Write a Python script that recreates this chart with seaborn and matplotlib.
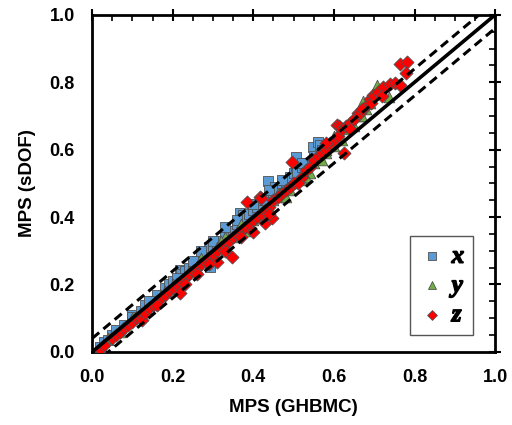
import matplotlib
matplotlib.use("Agg")
import matplotlib.pyplot as plt
import matplotlib.patheffects as pe
import seaborn as sns
import pandas as pd
from matplotlib.ticker import MultipleLocator
from matplotlib.font_manager import FontProperties

# ---- data ----
x_ghbmc = [0.02, 0.03, 0.04, 0.05, 0.06, 0.08, 0.10, 0.10, 0.12, 0.13, 0.15, 0.16, 0.18, 0.19,
           0.20, 0.218, 0.22, 0.23, 0.24, 0.25, 0.26, 0.27, 0.28, 0.29, 0.293, 0.30, 0.31, 0.32,
           0.33, 0.34, 0.35, 0.36, 0.367, 0.375, 0.38, 0.39, 0.40, 0.41, 0.42, 0.43, 0.437, 0.454,
           0.45, 0.46, 0.47, 0.48, 0.49, 0.50, 0.506, 0.506, 0.509, 0.52, 0.53, 0.548, 0.561,
           0.566, 0.55, 0.57, 0.14, 0.21, 0.25, 0.27, 0.30, 0.33, 0.36, 0.40, 0.44, 0.47, 0.52]
x_sdof = [0.015, 0.03, 0.035, 0.05, 0.065, 0.08, 0.11, 0.104, 0.12, 0.14, 0.15, 0.17, 0.19, 0.20,
          0.21, 0.243, 0.23, 0.24, 0.25, 0.26, 0.27, 0.28, 0.29, 0.31, 0.252, 0.31, 0.32, 0.33,
          0.35, 0.36, 0.36, 0.38, 0.412, 0.407, 0.40, 0.41, 0.42, 0.43, 0.45, 0.45, 0.507, 0.49,
          0.47, 0.48, 0.50, 0.50, 0.52, 0.53, 0.579, 0.546, 0.534, 0.55, 0.56, 0.608, 0.623,
          0.614, 0.58, 0.60, 0.15, 0.22, 0.27, 0.30, 0.33, 0.37, 0.39, 0.44, 0.48, 0.51, 0.56]

y_ghbmc = [0.04, 0.07, 0.10, 0.12, 0.15, 0.17, 0.20, 0.22, 0.24, 0.26, 0.28, 0.30, 0.31, 0.33,
           0.33, 0.35, 0.36, 0.38, 0.40, 0.42, 0.44, 0.45, 0.46, 0.47, 0.49, 0.50, 0.52, 0.54,
           0.55, 0.56, 0.57, 0.58, 0.58, 0.60, 0.60, 0.62, 0.63, 0.65, 0.66, 0.672, 0.68, 0.69,
           0.707, 0.72, 0.737, 0.18, 0.27, 0.32, 0.37, 0.41, 0.48, 0.53, 0.59, 0.64, 0.67]
y_sdof = [0.04, 0.06, 0.10, 0.11, 0.14, 0.17, 0.20, 0.21, 0.24, 0.25, 0.27, 0.29, 0.31, 0.32,
          0.34, 0.34, 0.36, 0.36, 0.39, 0.41, 0.43, 0.45, 0.47, 0.46, 0.48, 0.50, 0.51, 0.53,
          0.56, 0.58, 0.57, 0.59, 0.60, 0.61, 0.64, 0.63, 0.66, 0.67, 0.70, 0.745, 0.72, 0.74,
          0.792, 0.77, 0.757, 0.18, 0.28, 0.33, 0.38, 0.40, 0.46, 0.52, 0.62, 0.68, 0.70]

z_ghbmc = [0.02, 0.03, 0.05, 0.06, 0.07, 0.08, 0.09, 0.10, 0.11, 0.12, 0.124, 0.13, 0.14, 0.15,
           0.16, 0.17, 0.18, 0.19, 0.20, 0.21, 0.218, 0.22, 0.23, 0.24, 0.25, 0.26, 0.27, 0.28,
           0.29, 0.30, 0.31, 0.31, 0.32, 0.33, 0.34, 0.347, 0.35, 0.36, 0.37, 0.38, 0.385, 0.39,
           0.40, 0.40, 0.41, 0.417, 0.419, 0.42, 0.43, 0.43, 0.44, 0.447, 0.45, 0.46, 0.47, 0.48,
           0.49, 0.496, 0.50, 0.52, 0.53, 0.54, 0.55, 0.56, 0.57, 0.58, 0.59, 0.60, 0.608, 0.61,
           0.613, 0.62, 0.625, 0.63, 0.64, 0.65, 0.66, 0.665, 0.68, 0.69, 0.692, 0.697, 0.70,
           0.71, 0.722, 0.739, 0.752, 0.764, 0.764, 0.782, 0.779,
           0.16, 0.23, 0.26, 0.29, 0.33, 0.37, 0.44, 0.51, 0.58, 0.64, 0.67, 0.72]
z_sdof = [0.01, 0.02, 0.04, 0.05, 0.06, 0.07, 0.08, 0.09, 0.10, 0.11, 0.095, 0.115, 0.13, 0.14,
          0.15, 0.16, 0.17, 0.18, 0.19, 0.20, 0.175, 0.21, 0.22, 0.23, 0.24, 0.25, 0.26, 0.27,
          0.28, 0.29, 0.30, 0.267, 0.31, 0.32, 0.33, 0.282, 0.34, 0.35, 0.36, 0.37, 0.445, 0.38,
          0.39, 0.356, 0.40, 0.46, 0.457, 0.41, 0.42, 0.383, 0.43, 0.398, 0.45, 0.46, 0.47, 0.48,
          0.49, 0.564, 0.50, 0.52, 0.54, 0.55, 0.57, 0.58, 0.59, 0.60, 0.62, 0.63, 0.674, 0.64,
          0.671, 0.66, 0.59, 0.67, 0.68, 0.69, 0.71, 0.709, 0.73, 0.75, 0.739, 0.763, 0.76,
          0.77, 0.786, 0.795, 0.798, 0.792, 0.855, 0.861, 0.828,
          0.14, 0.20, 0.23, 0.26, 0.30, 0.34, 0.41, 0.50, 0.62, 0.66, 0.72, 0.76]

series_names = ["x", "y", "z"]
ref_x = [0.0, 1.0]
band = 0.04

df = pd.concat([
    pd.DataFrame({"GHBMC": x_ghbmc, "sDOF": x_sdof, "dir": "x"}),
    pd.DataFrame({"GHBMC": y_ghbmc, "sDOF": y_sdof, "dir": "y"}),
    pd.DataFrame({"GHBMC": z_ghbmc, "sDOF": z_sdof, "dir": "z"}),
], ignore_index=True)

sns.set_theme(style="white")
plt.rcParams["font.family"] = ["Liberation Sans", "DejaVu Sans"]
plt.rcParams["text.color"] = "black"
plt.rcParams["axes.labelcolor"] = "black"
plt.rcParams["xtick.color"] = "black"
plt.rcParams["ytick.color"] = "black"

fig = plt.figure(figsize=(5.12, 4.25), dpi=100)
ax = fig.add_axes([0.18, 0.172, 0.787, 0.793])

palette = {"x": "#5B9BD5", "y": "#70AD47", "z": "#FF0000"}
markers = {"x": "s", "y": "^", "z": "D"}
sizes = {"x": 50, "y": 58, "z": 44}

for name in series_names:
    sub = df[df["dir"] == name]
    sns.scatterplot(data=sub, x="GHBMC", y="sDOF", ax=ax, color=palette[name],
                    marker=markers[name], s=sizes[name], edgecolor="#505050",
                    linewidth=0.6, label=name, zorder=3)

ax.plot(ref_x, ref_x, color="black", lw=2.6, zorder=4)
ax.plot(ref_x, [v + band for v in ref_x], color="black", lw=2.2, ls=(0, (3, 1.8)), zorder=4)
ax.plot(ref_x, [v - band for v in ref_x], color="black", lw=2.2, ls=(0, (3, 1.8)), zorder=4)

ax.set_xlim(0, 1)
ax.set_ylim(0, 1)
ax.xaxis.set_major_locator(MultipleLocator(0.2))
ax.yaxis.set_major_locator(MultipleLocator(0.2))
ax.xaxis.set_minor_locator(MultipleLocator(0.05))
ax.yaxis.set_minor_locator(MultipleLocator(0.05))
ax.tick_params(which="major", direction="inout", length=9, width=1.5, color="black",
               top=True, right=True, labelsize=13, pad=8)
ax.tick_params(which="minor", direction="in", length=4, width=1.2, color="black",
               top=True, right=True)
ax.set_xticks([0, 0.2, 0.4, 0.6, 0.8, 1.0])
ax.set_yticks([0, 0.2, 0.4, 0.6, 0.8, 1.0])
ax.set_xticklabels([f"{v:.1f}" for v in ax.get_xticks()], fontweight="bold")
ax.set_yticklabels([f"{v:.1f}" for v in ax.get_yticks()], fontweight="bold")
for sp in ax.spines.values():
    sp.set_linewidth(2.0)
    sp.set_color("black")

ax.set_xlabel("MPS (GHBMC)", fontsize=13.5, fontweight="bold", labelpad=9)
ax.set_ylabel("MPS (sDOF)", fontsize=13.5, fontweight="bold", labelpad=10)

leg_font = FontProperties(family="Liberation Serif", style="italic", weight="bold", size=18)
leg = ax.legend(loc="lower right", bbox_to_anchor=(0.945, 0.05), borderaxespad=0,
                prop=leg_font, frameon=True, fancybox=False, edgecolor="#555555",
                framealpha=1, handletextpad=0.3, borderpad=0.35, labelspacing=0.25,
                markerscale=0.75, handlelength=1.0)
leg.get_frame().set_linewidth(1.0)
for t in leg.get_texts():
    t.set_fontproperties(leg_font)
    t.set_path_effects([pe.withStroke(linewidth=1.0, foreground="black")])

fig.savefig("out.png", dpi=100)
